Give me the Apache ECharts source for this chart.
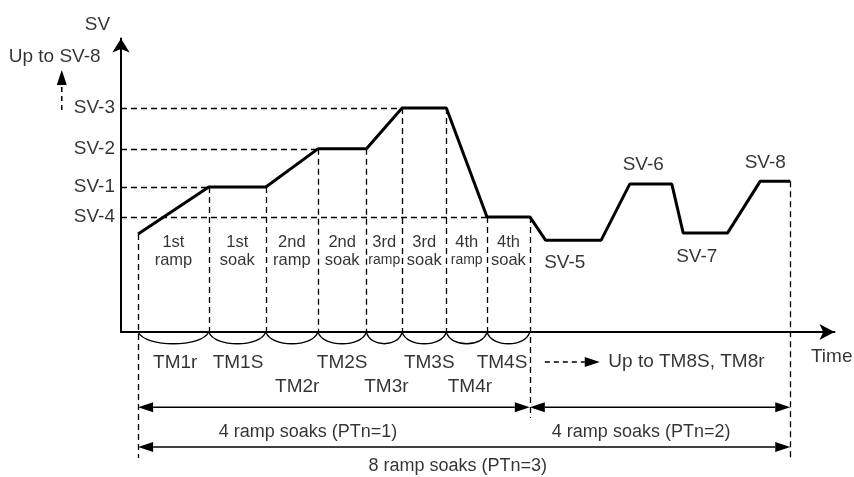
<!DOCTYPE html>
<html>
<head>
<meta charset="utf-8">
<script src="https://cdn.jsdelivr.net/npm/echarts@6/dist/echarts.min.js"></script>
<style>
html, body { margin: 0; padding: 0; background: #fff; }
#main { width: 854px; height: 477px; }
</style>
</head>
<body>
<div id="main"></div>
<script>
// set value profile (time and SV in arbitrary units)
const profileTime = [2.4, 12.3, 20.3, 27.6, 34.4, 39.4, 45.6, 51.3, 57.3, 59.5, 67.3, 71.3, 77.2, 78.8, 85.0, 89.6, 93.8];
const profileSV = [33.4, 49.4, 49.4, 62.4, 62.4, 76.3, 76.3, 39.2, 39.2, 31.3, 31.3, 50.4, 50.4, 33.7, 33.7, 51.4, 51.4];

// SV levels marked on the vertical axis
const levelNames = ['SV-3', 'SV-2', 'SV-1', 'SV-4'];
const levelValues = [76.3, 62.4, 49.4, 39.2];
const levelEndTime = [39.4, 27.6, 12.3, 51.3];

// later set values, written next to the curve
const laterNames = ['SV-5', 'SV-6', 'SV-7', 'SV-8'];
const laterTime = [62.2, 73.2, 80.7, 90.3];
const laterSV = [23.5, 56.9, 25.6, 57.6];

// step boundaries of the first 4 ramp soaks
const stepTime = [2.4, 12.3, 20.3, 27.6, 34.4, 39.4, 45.6, 51.3, 57.3];
const stepTop = [33.4, 49.4, 49.4, 62.4, 62.4, 76.3, 76.3, 39.2, 39.2];
const stepBottom = [-42.9, 0, 0, 0, 0, 0, 0, 0, -29.3];
const lastTime = 93.8, lastTop = 51.4, lastBottom = -43.6;
const arcDip = -4;

const stepFirst = ['1st', '1st', '2nd', '2nd', '3rd', '3rd', '4th', '4th'];
const stepSecond = ['ramp', 'soak', 'ramp', 'soak', 'ramp', 'soak', 'ramp', 'soak'];
const stepLabelSV = 27.4;

const timerNames = ['TM1r', 'TM1S', 'TM2r', 'TM2S', 'TM3r', 'TM3S', 'TM4r', 'TM4S'];
const timerTime = [7.6, 16.4, 24.7, 31.0, 37.2, 43.2, 48.9, 53.4];
const timerSV = [-10.6, -10.6, -18.7, -10.6, -18.7, -10.6, -18.7, -10.6];

// span arrows under the axis
const spanNames = ['4 ramp soaks (PTn=1)', '4 ramp soaks (PTn=2)', '8 ramp soaks (PTn=3)'];
const spanFrom = [2.4, 57.3, 2.4];
const spanTo = [57.3, 93.8, 93.8];
const spanSV = [-25.6, -25.6, -39.2];
const spanLabelTime = [26.2, 72.9, 47.2];
const spanLabelSV = [-34.1, -34.1, -45.7];

const FONT = "'Liberation Sans', Arial, sans-serif";

const chart = echarts.init(document.getElementById('main'));

const guideLines = [];
levelValues.forEach((v, i) => guideLines.push({ coords: [[0, v], [levelEndTime[i], v]] }));
stepTime.forEach((t, i) => guideLines.push({ coords: [[t, stepTop[i]], [t, stepBottom[i]]] }));
guideLines.push({ coords: [[lastTime, lastTop], [lastTime, lastBottom]] });

const arcs = [];
for (let i = 0; i < stepTime.length - 1; i++) arcs.push([stepTime[i], stepTime[i + 1], arcDip]);

// [x1, y1, x2, y2, both heads, dashed]
const arrows = spanFrom.map((f, i) => [f, spanSV[i], spanTo[i], spanSV[i], 1, 0]);
arrows.push([-8.3, 75.6, -8.3, 89.3, 0, 1]);
arrows.push([59.4, -10.2, 67.1, -10.2, 0, 1]);

const texts = [];
const addText = (name, x, y, label) => texts.push({ name, value: [x, y], label });
levelNames.forEach((n, i) => addText(n, 0, levelValues[i], { position: 'left', distance: 6, align: 'right', fontSize: 19 }));
laterNames.forEach((n, i) => addText(n, laterTime[i], laterSV[i], { fontSize: 19 }));
stepFirst.forEach((n, i) => {
  const mid = (stepTime[i] + stepTime[i + 1]) / 2;
  const narrow = (stepTime[i + 1] - stepTime[i]) < 6;
  addText(n, mid, stepLabelSV, {
    formatter: '{a|' + n + '}\n{' + (narrow ? 'n' : 'a') + '|' + stepSecond[i] + '}',
    rich: {
      a: { fontSize: 16.5, lineHeight: 18, fontFamily: FONT, color: '#000' },
      n: { fontSize: 14, lineHeight: 18, fontFamily: FONT, color: '#000' }
    }
  });
});
timerNames.forEach((n, i) => addText(n, timerTime[i], timerSV[i], { fontSize: 19 }));
spanNames.forEach((n, i) => addText(n, spanLabelTime[i], spanLabelSV[i], { fontSize: 18 }));
addText('SV', -3.3, 104.6, { fontSize: 19 });
addText('Up to SV-8', -9.3, 93.7, { fontSize: 19 });
addText('Time', 96.7, -8.5, { fontSize: 19, align: 'left' });
addText('Up to TM8S, TM8r', 68.3, -10.2, { fontSize: 19, align: 'left' });

function renderArc(params, api) {
  const a = api.coord([api.value(0), 0]);
  const b = api.coord([api.value(1), 0]);
  const low = api.coord([api.value(0), api.value(2)]);
  const w = b[0] - a[0];
  const cy = a[1] + (low[1] - a[1]) * 4 / 3;
  return {
    type: 'bezierCurve',
    shape: { x1: a[0], y1: a[1], x2: b[0], y2: b[1], cpx1: a[0] + w * 0.1, cpy1: cy, cpx2: b[0] - w * 0.1, cpy2: cy },
    style: { stroke: '#000', fill: null, lineWidth: 1.3 }
  };
}

function renderArrow(params, api) {
  const a = api.coord([api.value(0), api.value(1)]);
  const b = api.coord([api.value(2), api.value(3)]);
  const both = api.value(4) === 1;
  const dashed = api.value(5) === 1;
  const len = 15, half = 5;
  const dx = b[0] - a[0], dy = b[1] - a[1];
  const d = Math.hypot(dx, dy);
  const ux = dx / d, uy = dy / d;
  const head = (tip, sx, sy) => {
    const bx = tip[0] - sx * len, by = tip[1] - sy * len;
    return {
      type: 'polygon',
      shape: { points: [tip, [bx - sy * half, by + sx * half], [bx + sy * half, by - sx * half]] },
      style: { fill: '#000' }
    };
  };
  const start = both ? [a[0] + ux * len, a[1] + uy * len] : a;
  const children = [{
    type: 'line',
    shape: { x1: start[0], y1: start[1], x2: b[0] - ux * len, y2: b[1] - uy * len },
    style: { stroke: '#000', lineWidth: 1.5, lineDash: dashed ? [5, 4] : null }
  }, head(b, ux, uy)];
  if (both) children.push(head(a, -ux, -uy));
  return { type: 'group', children };
}

const option = {
  animation: false,
  backgroundColor: '#fff',
  textStyle: { fontFamily: FONT, color: '#000' },
  grid: { left: 121, right: 19.5, top: 38.5, bottom: 145, outerBoundsMode: 'none' },
  xAxis: {
    type: 'value', min: 0, max: 100,
    axisLine: { show: true, symbol: ['none', 'arrow'], symbolSize: [12, 15], lineStyle: { color: '#000', width: 2 } },
    axisTick: { show: false }, axisLabel: { show: false }, splitLine: { show: false }
  },
  yAxis: {
    type: 'value', min: 0, max: 100,
    axisLine: { show: true, symbol: ['none', 'arrow'], symbolSize: [13, 14], lineStyle: { color: '#000', width: 2 } },
    axisTick: { show: false }, axisLabel: { show: false }, splitLine: { show: false }
  },
  series: [
    {
      type: 'lines', coordinateSystem: 'cartesian2d', clip: false, silent: true,
      lineStyle: { color: '#000', width: 1.3, type: [6, 4], opacity: 1 },
      data: guideLines
    },
    {
      type: 'custom', coordinateSystem: 'cartesian2d', clip: false, silent: true,
      renderItem: renderArc, data: arcs
    },
    {
      type: 'custom', coordinateSystem: 'cartesian2d', clip: false, silent: true,
      renderItem: renderArrow, data: arrows
    },
    {
      type: 'line', showSymbol: false, silent: true,
      lineStyle: { color: '#000', width: 3 },
      data: profileTime.map((t, i) => [t, profileSV[i]])
    },
    {
      type: 'scatter', symbolSize: 0, clip: false, silent: true,
      label: {
        show: true, position: 'inside', formatter: '{b}', color: '#000',
        fontFamily: FONT, align: 'center', verticalAlign: 'middle'
      },
      data: texts
    }
  ]
};
chart.setOption(option);
</script>
</body>
</html>
